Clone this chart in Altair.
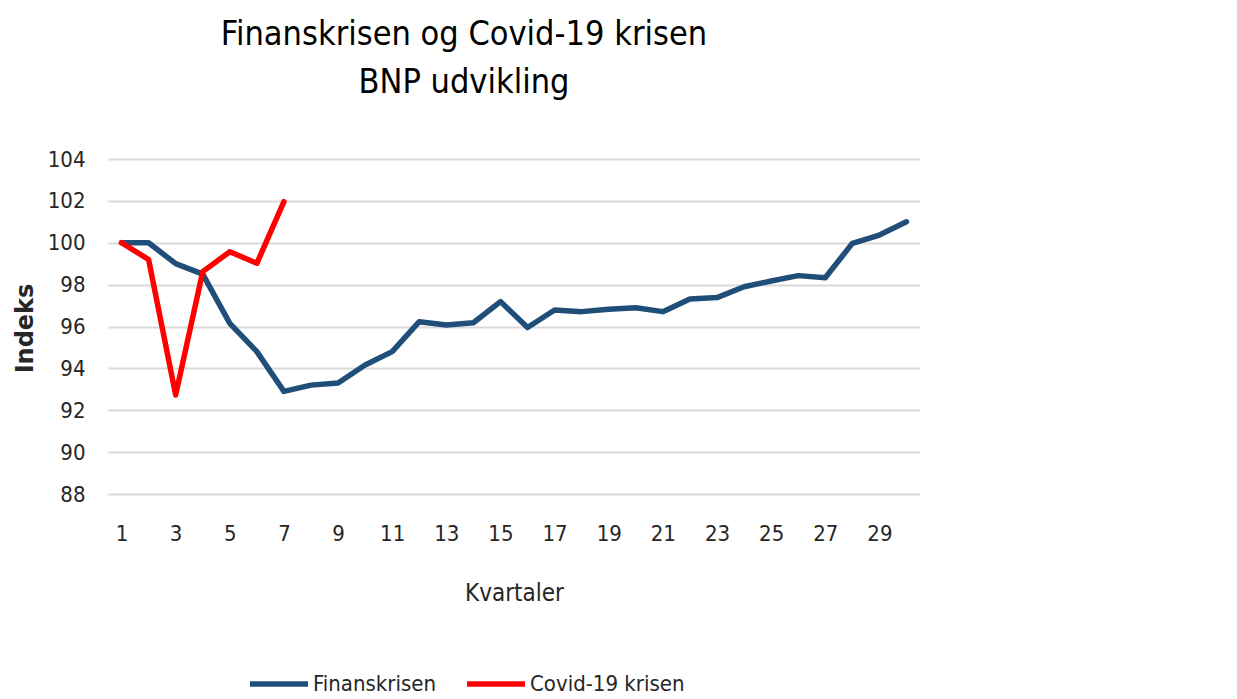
import altair as alt
import pandas as pd

# Data
fin_quarters = list(range(1, 31))
fin_values = [100.0, 100.0, 99.0, 98.5, 96.15, 94.8, 92.9, 93.2, 93.3, 94.16,
              94.8, 96.23, 96.07, 96.18, 97.19, 95.95, 96.79, 96.71, 96.82, 96.9,
              96.71, 97.31, 97.38, 97.9, 98.17, 98.43, 98.33, 99.97, 100.37, 101.0]
covid_quarters = list(range(1, 8))
covid_values = [100.0, 99.2, 92.73, 98.62, 99.57, 99.02, 101.96]

series_names = ["Finanskrisen", "Covid-19 krisen"]
series_colors = ["#1F4E79", "#FF0000"]
x_ticks = list(range(1, 30, 2))
y_ticks = list(range(88, 105, 2))
title_lines = ["Finanskrisen og Covid-19 krisen", "BNP udvikling"]

df = pd.concat([
    pd.DataFrame({"Kvartal": fin_quarters, "Indeks": fin_values, "Serie": series_names[0]}),
    pd.DataFrame({"Kvartal": covid_quarters, "Indeks": covid_values, "Serie": series_names[1]}),
], ignore_index=True)

narrow = "DejaVu Sans Condensed, Roboto, sans-serif"
txt = "#262626"

chart = alt.Chart(df).mark_line(strokeWidth=5.5, strokeJoin="round", strokeCap="round").encode(
    x=alt.X("Kvartal:Q",
            scale=alt.Scale(domain=[0.5, 30.5], nice=False, zero=False),
            axis=alt.Axis(values=x_ticks, title="Kvartaler", grid=False, domain=False, ticks=False,
                          labelFont=narrow, labelFontSize=22, labelColor=txt, labelPadding=29,
                          titleFont=narrow, titleFontSize=24, titleFontWeight="normal", titleColor=txt,
                          titleY=106, titleBaseline="alphabetic")),
    y=alt.Y("Indeks:Q",
            scale=alt.Scale(domain=[88, 104], nice=False, zero=False),
            axis=alt.Axis(values=y_ticks, title="Indeks", grid=True, gridColor="#D9D9D9", gridWidth=2,
                          domain=False, ticks=False,
                          labelFont=narrow, labelFontSize=22, labelColor=txt, labelPadding=23,
                          titleFont="DejaVu Sans", titleFontSize=24, titleFontWeight="bold", titleColor=txt,
                          titleX=-83, titleY=169, titleBaseline="middle")),
    color=alt.Color("Serie:N",
                    scale=alt.Scale(domain=series_names, range=series_colors),
                    sort=series_names,
                    legend=alt.Legend(title=None, orient="none", direction="horizontal",
                                      legendX=139, legendY=493,
                                      symbolType="stroke", symbolSize=3364, symbolStrokeWidth=5.5,
                                      labelFont=narrow, labelFontSize=22, labelColor=txt,
                                      labelOffset=2, columnPadding=20)),
).properties(
    width=812,
    height=335,
    title=alt.TitleParams(text=title_lines, font=narrow, fontSize=34, fontWeight="normal",
                          color="#000000", lineHeight=48, anchor="middle", dx=-50, offset=48),
    autosize=alt.AutoSizeParams(type="none"),
    padding={"left": 100, "top": 151, "right": 300, "bottom": 204},
).configure_view(stroke=None)

chart.save("out.html", embed_options={"renderer": "svg", "actions": False})
